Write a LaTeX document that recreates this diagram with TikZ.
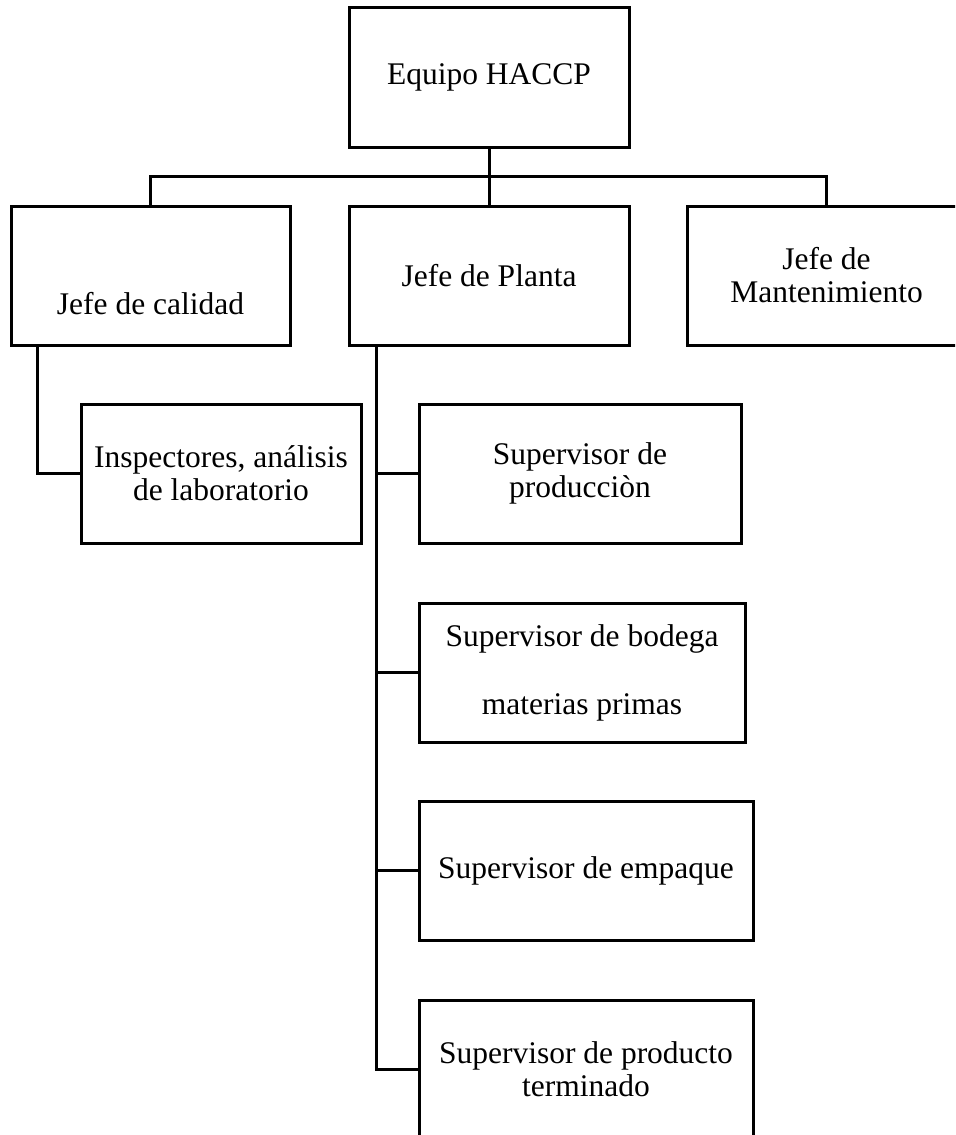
\documentclass[tikz,border=0pt]{standalone}
\usepackage{fontspec}
\setmainfont{Liberation Serif}
\usetikzlibrary{calc}
\begin{document}
\begin{tikzpicture}[x=0.5pt,y=-0.5pt,
  box/.style={draw, line width=1.5pt, inner sep=0pt, align=center,
    font=\fontsize{15.75pt}{16.5pt}\selectfont},
  link/.style={line width=1.5pt}]
\useasboundingbox (0,0) rectangle (955,1135);
\clip (0,0) rectangle (955,1135);

% top of the team
\node[box, minimum width=140pt, minimum height=70pt] (eq) at (489,77) {Equipo HACCP};

% second level
\node[box, minimum width=139.5pt, minimum height=69.5pt] (cal) at (150.5,275.5)
  {\raisebox{-19.5pt}[0pt][0pt]{Jefe de calidad}};
\node[box, minimum width=140pt, minimum height=69.5pt] (pla) at (489,275.5) {Jefe de Planta};
\node[box, minimum width=139.5pt, minimum height=69.5pt] (man) at (826.5,275.5) {Jefe de\\Mantenimiento};

% quality branch
\node[box, minimum width=140pt, minimum height=69.5pt] (ins) at (221,473.5)
  {Inspectores, análisis\\de laboratorio};

% plant branch
\node[box, minimum width=161pt, minimum height=69.5pt] (pro) at (580,473.5) {Supervisor de\\producciòn};
\node[box, minimum width=163pt, minimum height=69.5pt] (bod) at (582,672.5)
  {Supervisor de bodega\\[17.5pt]materias primas};
\node[box, minimum width=167pt, minimum height=69.5pt] (emp) at (586,870.5) {Supervisor de empaque};
\node[box, minimum width=167pt, minimum height=69.5pt] (ter) at (586,1069.5)
  {Supervisor de producto\\terminado};

% connectors from the top box
\coordinate (bus) at ($(eq.south)!0.5!(pla.north)$);
\draw[link] (eq.south) -- (pla.north);
\draw[link] (cal.north) |- (bus) -| (man.north);

% quality chief to inspectors
\coordinate (cv) at ($(cal.south west)+(28,0)$);
\draw[link] (cv) |- (ins.west);

% plant chief spine and its stubs
\coordinate (pv) at ($(pla.south west)+(29,0)$);
\draw[link] (pv) |- (ter.west);
\draw[link] (pro.west) -- (pro.west -| pv);
\draw[link] (bod.west) -- (bod.west -| pv);
\draw[link] (emp.west) -- (emp.west -| pv);
\end{tikzpicture}
\end{document}
